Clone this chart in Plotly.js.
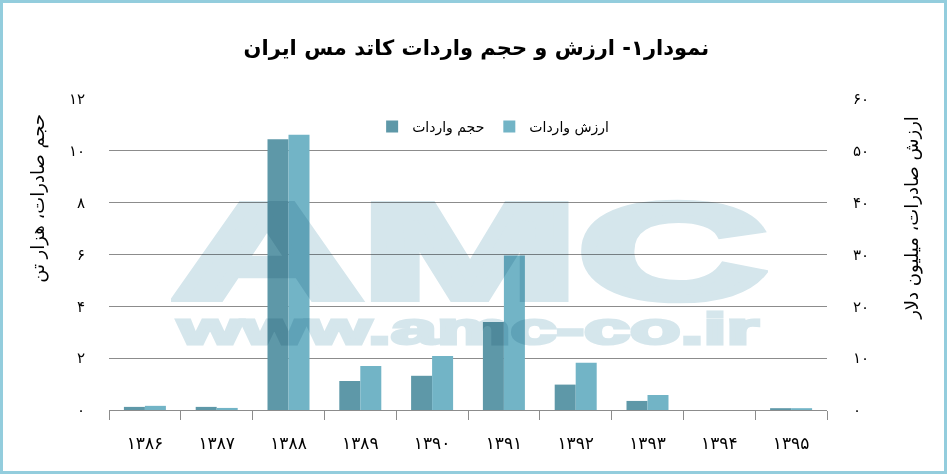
<!DOCTYPE html>
<html>
<head>
<meta charset="utf-8">
<script src="https://cdn.plot.ly/plotly-3.0.1.min.js"></script>
<style>
  html, body { margin: 0; padding: 0; background: #ffffff; }
  #wrap { position: relative; width: 947px; height: 474px; overflow: hidden; background: #fff; }
  #chart { position: absolute; left: 0; top: 0; width: 947px; height: 474px; }
  .wm { position: absolute; font-family: "Liberation Sans", Arial, sans-serif; font-weight: bold;
        color: #d5e6ec; -webkit-text-stroke-color: #d5e6ec; white-space: nowrap;
        transform-origin: 0 0; line-height: 1; pointer-events: none; mix-blend-mode: multiply; }
  #frame { position: absolute; left: 0; top: 0; width: 947px; height: 474px; box-sizing: border-box;
           border: 3px solid #93cddd; pointer-events: none; }
</style>
</head>
<body>
<div id="wrap">
  <div id="chart"></div>
  <div class="wm" style="left:173px; top:184px; font-size:135px; -webkit-text-stroke-width:8px; transform:scaleX(1.93);">AMC</div>
  <div class="wm" style="left:178px; top:307px; font-size:44px; -webkit-text-stroke-width:3px; transform:scaleX(1.88);">www.amc-co.ir</div>
  <div id="frame"></div>
</div>
<script>
// ---- data ----
const years = ['۱۳۸۶', '۱۳۸۷', '۱۳۸۸', '۱۳۸۹', '۱۳۹۰', '۱۳۹۱', '۱۳۹۲', '۱۳۹۳', '۱۳۹۴', '۱۳۹۵'];
const importVolume = [0.12, 0.12, 10.45, 1.12, 1.32, 3.4, 0.98, 0.35, 0, 0.07];   // thousand tonnes (left axis)
const importValue  = [0.8, 0.4, 53.1, 8.5, 10.4, 29.8, 9.1, 2.9, 0, 0.35];       // million USD (right axis)
const leftTickVals  = [0, 2, 4, 6, 8, 10, 12];
const leftTickText  = ['۰', '۲', '۴', '۶', '۸', '۱۰', '۱۲'];
const rightTickVals = [0, 10, 20, 30, 40, 50, 60];
const rightTickText = ['۰', '۱۰', '۲۰', '۳۰', '۴۰', '۵۰', '۶۰'];
const seriesNames = ['حجم واردات', 'ارزش واردات'];
const chartTitle = 'نمودار۱- ارزش و حجم واردات کاتد مس ایران';
const leftTitle = 'حجم صادرات، هزار تن';
const rightTitle = 'ارزش صادرات، میلیون دلار';

const FONT = '"DejaVu Sans", "Noto Sans", sans-serif';

const traces = [
  {
    type: 'bar', x: years, y: importVolume, name: seriesNames[0],
    yaxis: 'y', offsetgroup: 'a',
    marker: { color: '#5e98a8', line: { width: 0 } }
  },
  {
    type: 'bar', x: years, y: importValue, name: seriesNames[1],
    yaxis: 'y2', offsetgroup: 'b',
    marker: { color: '#72b4c6', line: { width: 0 } }
  }
];

const layout = {
  width: 947, height: 474,
  margin: { l: 109, r: 120, t: 99, b: 64, pad: 0 },
  paper_bgcolor: 'rgba(0,0,0,0)',
  plot_bgcolor: 'rgba(0,0,0,0)',
  font: { family: FONT, color: '#000' },
  barmode: 'group',
  bargap: 0.415,
  bargroupgap: 0,
  title: {
    text: chartTitle,
    font: { family: FONT, size: 21, color: '#000', weight: 'bold' },
    x: 0.503, xanchor: 'center', y: 0.9, yanchor: 'middle'
  },
  showlegend: true,
  legend: {
    orientation: 'h', x: 0.535, xanchor: 'center', y: 0.91, yanchor: 'middle',
    font: { family: FONT, size: 14, color: '#000' },
    bgcolor: 'rgba(0,0,0,0)', traceorder: 'normal'
  },
  xaxis: {
    type: 'category',
    showline: true, linecolor: '#8c8c8c', linewidth: 1,
    ticks: 'outside', tickson: 'boundaries', ticklen: 9, tickcolor: '#8c8c8c', tickwidth: 1,
    tickfont: { family: FONT, size: 17, color: '#000' },
    ticklabelstandoff: 18,
    showgrid: false, zeroline: false, fixedrange: true
  },
  yaxis: {
    range: [0, 12],
    tickvals: leftTickVals, ticktext: leftTickText,
    tickfont: { family: FONT, size: 15, color: '#000' },
    ticks: 'outside', ticklen: 20, tickcolor: 'rgba(0,0,0,0)',
    showgrid: true, gridcolor: '#8c8c8c', gridwidth: 1,
    zeroline: false, showline: false, fixedrange: true
  },
  yaxis2: {
    range: [0, 60], overlaying: 'y', side: 'right',
    tickvals: rightTickVals, ticktext: rightTickText,
    tickfont: { family: FONT, size: 15, color: '#000' },
    ticks: 'outside', ticklen: 22, tickcolor: 'rgba(0,0,0,0)',
    showgrid: false, zeroline: false, showline: false, fixedrange: true
  },
  annotations: [
    {
      text: leftTitle, xref: 'paper', yref: 'paper', x: -0.099, y: 0.682,
      xanchor: 'center', yanchor: 'middle', textangle: -90, showarrow: false,
      font: { family: FONT, size: 18, color: '#000' }
    },
    {
      text: rightTitle, xref: 'paper', yref: 'paper', x: 1.118, y: 0.617,
      xanchor: 'center', yanchor: 'middle', textangle: -90, showarrow: false,
      font: { family: FONT, size: 18, color: '#000' }
    }
  ]
};

Plotly.newPlot('chart', traces, layout, { displayModeBar: false, staticPlot: true });
</script>
</body>
</html>
